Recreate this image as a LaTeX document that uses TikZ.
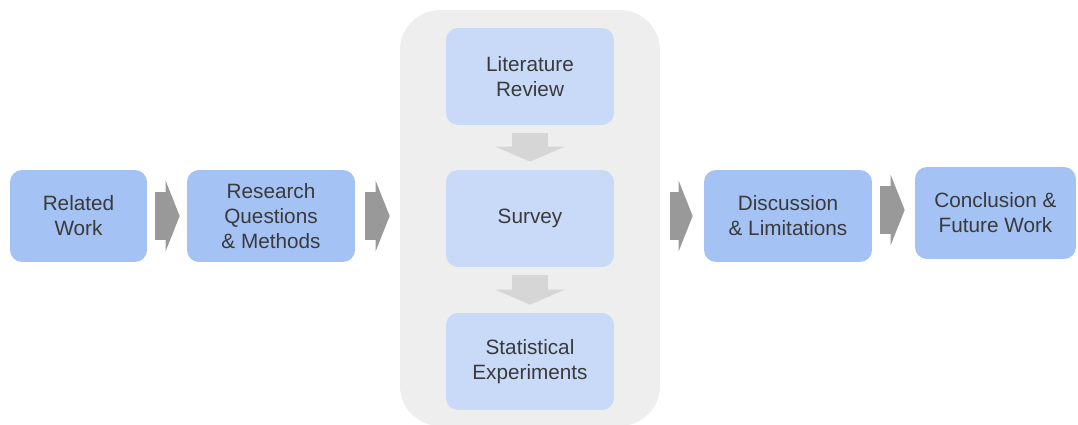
\documentclass[tikz,border=0pt]{standalone}
\usepackage{fontspec}
\setmainfont{Liberation Sans}
\usetikzlibrary{arrows.meta}
\definecolor{outerblue}{HTML}{A4C2F4}
\definecolor{innerblue}{HTML}{C9DAF8}
\definecolor{panelgray}{HTML}{EEEEEE}
\definecolor{sidearrow}{HTML}{999999}
\definecolor{downarrow}{HTML}{D6D6D6}
\definecolor{txtgray}{HTML}{3A3A3A}

\tikzset{
  stagebox/.style={rounded corners=0.24cm, align=center, inner sep=0pt,
    minimum height=1.84cm, fill=outerblue, text=txtgray,
    font=\fontsize{11.8}{14.2}\selectfont},
  innerbox/.style={stagebox, fill=innerblue, minimum width=3.36cm, minimum height=1.94cm},
  sidearr/.style={draw=sidearrow, line width=0.96cm,
    -{Triangle[length=0.28cm, width=1.4cm, fill=sidearrow]}},
  downarr/.style={draw=downarrow, line width=0.72cm,
    -{Triangle[length=0.3cm, width=1.38cm, fill=downarrow]}}
}

\begin{document}
\begin{tikzpicture}[x=0.02cm, y=-0.02cm]
      \useasboundingbox (0,0) rectangle (1078,425);

      % grey panel holding the three inner steps
      \node[fill=panelgray, rounded corners=0.8cm, minimum width=5.2cm,
        minimum height=8.32cm, inner sep=0pt] (phase) at (530,218) {};

      \node[stagebox, minimum width=2.74cm] (related) at (78.5,216) {Related\\Work};
      \node[stagebox, minimum width=3.36cm] (rq) at (271,216) {Research\\Questions\\\& Methods};
      \node[stagebox, minimum width=3.36cm] (disc) at (788,216) {Discussion\\\& Limitations};
      \node[stagebox, minimum width=3.22cm] (concl) at (995.5,213) {Conclusion \&\\Future Work};

      \node[innerbox] (lit) at (530,76.5) {Literature\\Review};
      \node[innerbox] (survey) at (530,218.5) {Survey};
      \node[innerbox] (stat) at (530,361.5) {Statistical\\Experiments};

      \draw[sidearr, shorten <=0.16cm, shorten >=0.14cm] (related) -- (rq);
      \draw[sidearr, shorten <=0.2cm, shorten >=0.2cm] (rq) -- (phase.west |- rq);
      \draw[sidearr, shorten <=0.2cm, shorten >=0.22cm] (phase.east |- disc) -- (disc);
      \draw[sidearr, shorten <=0.16cm, shorten >=0.2cm] (disc.east |- 0,210) -- (concl.west |- 0,210);

      \draw[downarr, shorten <=0.16cm, shorten >=0.16cm] (lit) -- (survey);
      \draw[downarr, shorten <=0.16cm, shorten >=0.16cm] (survey) -- (stat);

    \end{tikzpicture}
\end{document}
